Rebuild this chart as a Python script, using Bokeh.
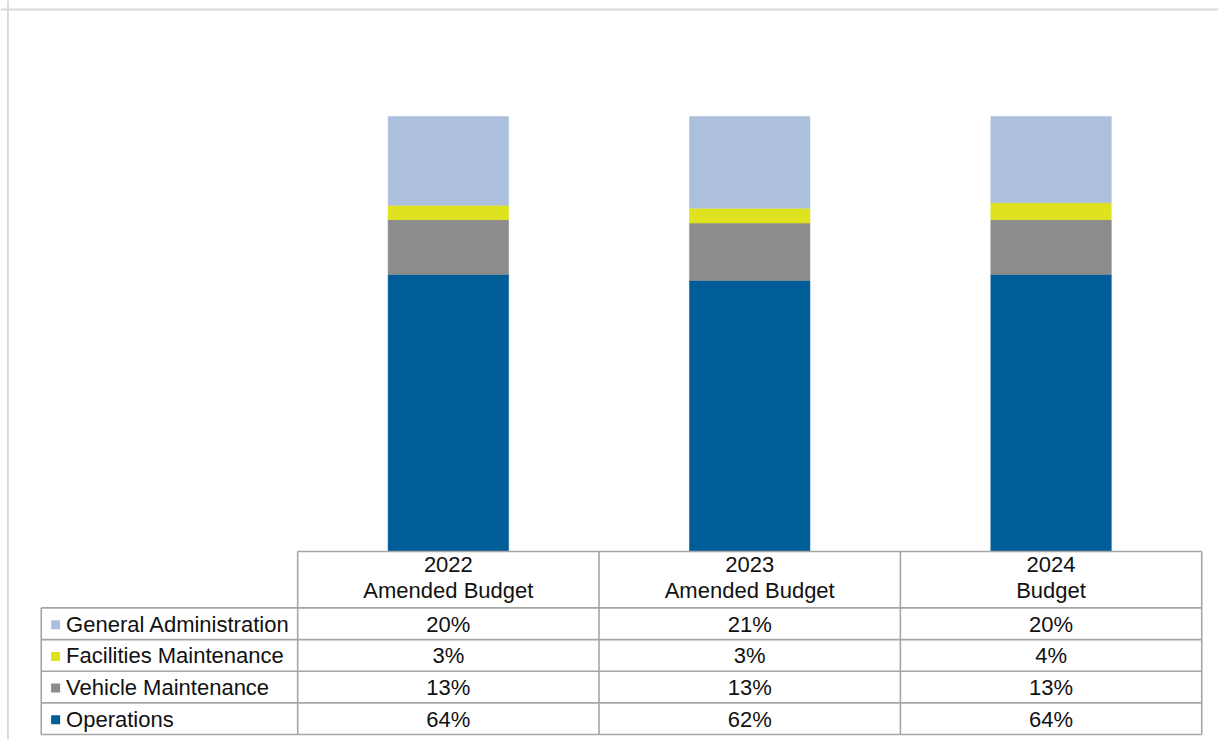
from bokeh.plotting import figure
from bokeh.models import Range1d, ColumnDataSource, Span
from bokeh.core.properties import value
from bokeh.embed import file_html
from bokeh.resources import INLINE

# ---------------- data ----------------
years = ["2022", "2023", "2024"]
budget_types = ["Amended Budget", "Amended Budget", "Budget"]
series = ["Operations", "Vehicle Maintenance", "Facilities Maintenance", "General Administration"]
operations = [63.7, 62.3, 63.7]
vehicle_maintenance = [12.6, 13.2, 12.6]
facilities_maintenance = [3.3, 3.4, 3.9]
general_administration = [20.4, 21.1, 19.8]
colors = ["#005d98", "#8c8c8c", "#dfe21f", "#acc0de"]

# ---------------- layout helpers (reference pixel -> data) ----------------
W, H = 1218, 739
REF_W, REF_H = 1226, 747
COL_W = 303.33        # px per category column
X0_PX = 450.8         # x of first column centre
Y0_PX = 557.0         # y of 0 %
PX_PER_PCT = 4.397    # px per percent


def sx(px):
    return (px - X0_PX) / COL_W


def sy(py):
    return (Y0_PX - py) / PX_PER_PCT


p = figure(width=W, height=H, output_backend="svg", toolbar_location=None,
           x_range=Range1d(sx(0), sx(REF_W)), y_range=Range1d(sy(REF_H), sy(0)),
           x_axis_location=None, y_axis_location=None, min_border=0,
           background_fill_color="white", border_fill_color="white")
p.outline_line_color = None
p.grid.visible = False
p.title.visible = False

FONT = "Liberation Sans"
FS = "22px"
TXT = "#111111"

# outer chart border (left and top visible)
p.add_layout(Span(location=sx(7.5), dimension="height", line_color="#dadada", line_width=2))
p.add_layout(Span(location=sy(9), dimension="width", line_color="#dadada", line_width=2))

# ---------------- stacked bars ----------------
xs = list(range(len(years)))
src = ColumnDataSource(dict(x=xs,
                            Operations=operations,
                            **{"Vehicle Maintenance": vehicle_maintenance,
                               "Facilities Maintenance": facilities_maintenance,
                               "General Administration": general_administration}))
p.vbar_stack(series, x="x", width=0.4, color=colors, line_color=colors, line_width=0.5, source=src)

# ---------------- data table ----------------
row_lines_px = [614, 646, 678, 710, 742]
line_col = "#a6a6a6"
lw = 1.6
x_left_lab = sx(41)
x_right = len(years) - 0.5
hx0, hx1, hy = [sx(299)], [x_right], [0.0]
for r in row_lines_px:
    hx0.append(x_left_lab); hx1.append(x_right); hy.append(sy(r))
p.segment(x0=hx0, x1=hx1, y0=hy, y1=hy, line_color=line_col, line_width=lw)
vx = [x_left_lab] + [i - 0.5 for i in range(len(years) + 1)]
vy0 = [sy(614)] + [0.0] * (len(years) + 1)
vy1 = [sy(742)] * len(vx)
p.segment(x0=vx, x1=vx, y0=vy0, y1=vy1, line_color=line_col, line_width=lw)

p.text(x=xs, y=[sy(570.5)] * len(xs), text=years, text_align="center", text_baseline="middle",
       text_font=value(FONT), text_font_size=FS, text_color=TXT)
p.text(x=xs, y=[sy(596)] * len(xs), text=budget_types, text_align="center", text_baseline="middle",
       text_font=value(FONT), text_font_size=FS, text_color=TXT)

table_rows = [("General Administration", general_administration, colors[3]),
              ("Facilities Maintenance", facilities_maintenance, colors[2]),
              ("Vehicle Maintenance", vehicle_maintenance, colors[1]),
              ("Operations", operations, colors[0])]
row_centers = [(row_lines_px[k] + row_lines_px[k + 1]) / 2 + 0.5 for k in range(4)]
for (name, vals, col), cy in zip(table_rows, row_centers):
    yy = sy(cy)
    p.scatter(x=[sx(55.5)], y=[sy(cy + 0.5)], marker="square", size=9, fill_color=col, line_color=None)
    p.text(x=[sx(66)], y=[yy], text=[name], text_align="left", text_baseline="middle",
           text_font=value(FONT), text_font_size=FS, text_color=TXT)
    p.text(x=xs, y=[yy] * len(xs), text=[f"{round(v)}%" for v in vals], text_align="center",
           text_baseline="middle", text_font=value(FONT), text_font_size=FS, text_color=TXT)

open("out.html", "w").write(file_html(p, INLINE))
